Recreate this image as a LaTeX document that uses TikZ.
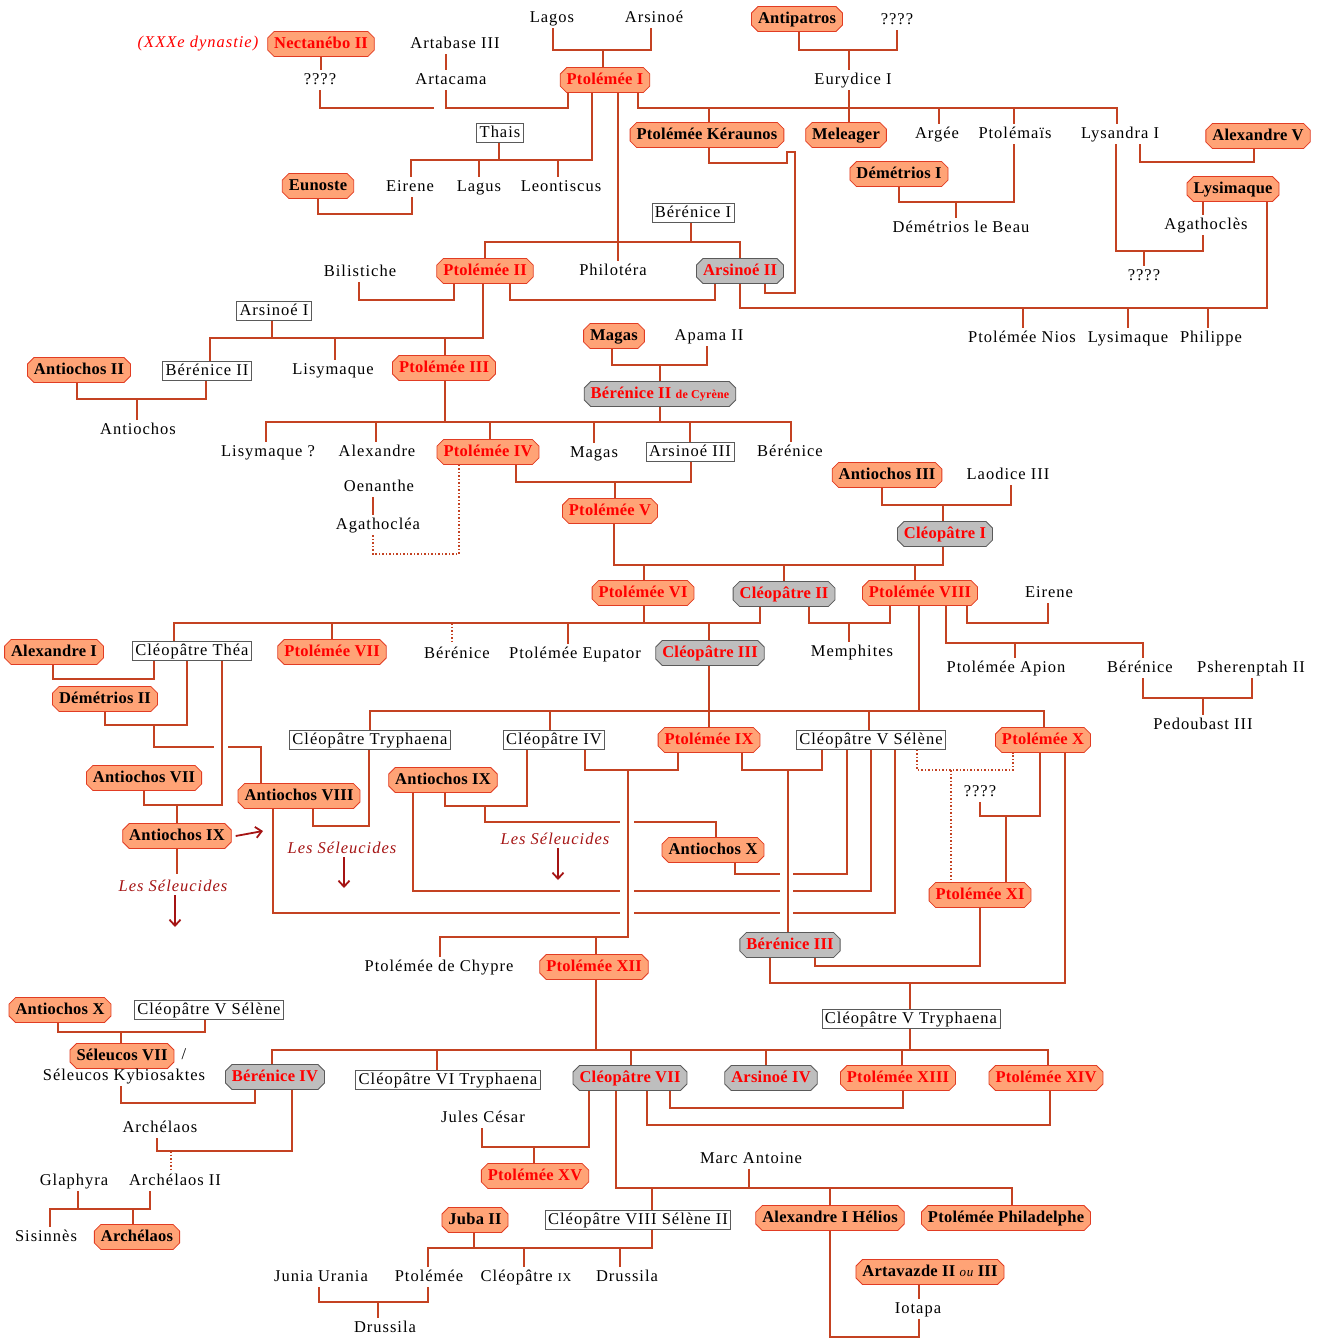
\documentclass[tikz,border=0pt]{standalone}
\usepackage{fontspec}
\setmainfont{Liberation Serif}
\newfontfamily\lsr[LetterSpace=6]{Liberation Serif}
\newfontfamily\lsb[LetterSpace=1.5]{Liberation Serif}
\usetikzlibrary{shapes.misc,arrows.meta}
\definecolor{lc}{RGB}{196,66,34}
\definecolor{ofill}{RGB}{255,163,118}
\definecolor{obord}{RGB}{225,60,35}
\definecolor{gfill}{RGB}{190,190,190}
\definecolor{gbord}{RGB}{90,90,90}
\definecolor{dred}{RGB}{165,20,20}
\tikzset{
  base/.style={inner xsep=3pt, inner ysep=1.5pt, text height=12pt, text depth=4pt},
  cham/.style={base, chamfered rectangle, chamfered rectangle xsep=3.5pt, chamfered rectangle ysep=3pt, line width=0.8pt, font=\lsb\fontsize{16.5}{18}\selectfont\bfseries},
  pha/.style={cham, fill=ofill, draw=obord, text=red},
  reg/.style={cham, fill=ofill, draw=obord, text=black},
  que/.style={cham, fill=gfill, draw=gbord, text=red},
  wbox/.style={base, rectangle, fill=white, draw=gbord, line width=0.7pt, font=\lsr\fontsize{16.5}{18}\selectfont},
  txt/.style={base, inner ysep=2pt, font=\lsr\fontsize{16.5}{18}\selectfont},
  seleu/.style={font=\lsr\fontsize{16.5}{18}\selectfont\itshape, text=dred},
  sarrow/.style={draw=dred, line width=1.8pt, -{Straight Barb[length=6pt,width=11pt]}},
  ln/.style={color=lc, line width=1.5pt},
}
\begin{document}
\begin{tikzpicture}[x=1pt,y=-1pt]
\useasboundingbox (0,0) rectangle (1323,1339);
% ---------------- nodes ----------------
\node[font=\lsr\fontsize{16.5}{18}\selectfont\itshape, text=red] (dyn) at (198,44) {(XXXe dynastie)};
\node[pha] (nect) at (321,44) {Nectanébo II};
\node[txt] (artab) at (455,44) {Artabase III};
\node[txt] (lagos) at (552,18) {Lagos};
\node[txt] (arsn) at (654,18) {Arsinoé};
\node[reg] (antip) at (797,19) {Antipatros};
\node[txt] (q1) at (897,20) {????};
\node[txt] (q0) at (320,80) {????};
\node[txt] (artac) at (451,80) {Artacama};
\node[pha] (pt1) at (605,80) {Ptolémée I};
\node[txt] (eury) at (853,80) {Eurydice I};
\node[wbox] (thais) at (500,133) {Thais};
\node[reg] (kera) at (707,135) {Ptolémée Kéraunos};
\node[reg] (mele) at (846,135) {Meleager};
\node[txt] (argee) at (937,134) {Argée};
\node[txt] (ptmais) at (1015,134) {Ptolémaïs};
\node[txt] (lysa) at (1120,134) {Lysandra I};
\node[reg] (alex5) at (1258,136) {Alexandre V};
\node[reg] (euno) at (318,186) {Eunoste};
\node[txt] (eirene1) at (410,187) {Eirene};
\node[txt] (lagus) at (479,187) {Lagus};
\node[txt] (leont) at (561,187) {Leontiscus};
\node[reg] (dem1) at (899,174) {Démétrios I};
\node[reg] (lysim1) at (1233,189) {Lysimaque};
\node[wbox] (ber1) at (693,213) {Bérénice I};
\node[txt] (dembeau) at (961,228) {Démétrios le Beau};
\node[txt] (agath) at (1206,225) {Agathoclès};
\node[txt] (bilis) at (360,272) {Bilistiche};
\node[pha] (pt2) at (485,271) {Ptolémée II};
\node[txt] (philo) at (613,271) {Philotéra};
\node[que] (ars2) at (740,271) {Arsinoé II};
\node[txt] (q2) at (1144,276) {????};
\node[wbox] (ars1) at (274,311) {Arsinoé I};
\node[txt] (ptnios) at (1022,338) {Ptolémée Nios};
\node[txt] (lysim2) at (1128,338) {Lysimaque};
\node[txt] (phil) at (1211,338) {Philippe};
\node[reg] (magas1) at (614,336) {Magas};
\node[txt] (apama) at (709,336) {Apama II};
\node[reg] (antio2) at (79,370) {Antiochos II};
\node[wbox] (ber2) at (207,371) {Bérénice II};
\node[txt] (lisym) at (333,370) {Lisymaque};
\node[pha] (pt3) at (444,368) {Ptolémée III};
\node[que] (ber2c) at (660,394) {Bérénice II {\fontsize{12}{13}\selectfont de Cyrène}};
\node[txt] (antiochos) at (138,430) {Antiochos};
\node[txt] (lisymq) at (268,452) {Lisymaque ?};
\node[txt] (alex) at (377,452) {Alexandre};
\node[pha] (pt4) at (488,452) {Ptolémée IV};
\node[txt] (magas2) at (594,453) {Magas};
\node[wbox] (ars3) at (690,452) {Arsinoé III};
\node[txt] (bere) at (790,452) {Bérénice};
\node[reg] (antio3) at (887,475) {Antiochos III};
\node[txt] (laod) at (1008,475) {Laodice III};
\node[txt] (oen) at (379,487) {Oenanthe};
\node[txt] (agathc) at (378,525) {Agathocléa};
\node[pha] (pt5) at (610,511) {Ptolémée V};
\node[que] (cleo1) at (945,534) {Cléopâtre I};
\node[pha] (pt6) at (643,593) {Ptolémée VI};
\node[que] (cleo2) at (784,594) {Cléopâtre II};
\node[pha] (pt8) at (920,593) {Ptolémée VIII};
\node[txt] (eirene2) at (1049,593) {Eirene};
\node[reg] (alex1) at (54,652) {Alexandre I};
\node[wbox] (thea) at (192,651) {Cléopâtre Théa};
\node[pha] (pt7) at (332,652) {Ptolémée VII};
\node[txt] (bere2) at (457,654) {Bérénice};
\node[txt] (eupat) at (575,654) {Ptolémée Eupator};
\node[que] (cleo3) at (710,653) {Cléopâtre III};
\node[txt] (memph) at (852,652) {Memphites};
\node[txt] (apion) at (1006,668) {Ptolémée Apion};
\node[txt] (bere3) at (1140,668) {Bérénice};
\node[txt] (psher) at (1251,668) {Psherenptah II};
\node[txt] (pedou) at (1203,725) {Pedoubast III};
\node[reg] (dem2) at (105,699) {Démétrios II};
\node[wbox] (tryph) at (370,740) {Cléopâtre Tryphaena};
\node[wbox] (cleo4) at (554,740) {Cléopâtre IV};
\node[pha] (pt9) at (709,740) {Ptolémée IX};
\node[wbox] (selene) at (871,740) {Cléopâtre V Sélène};
\node[pha] (pt10) at (1043,740) {Ptolémée X};
\node[reg] (antio7) at (144,778) {Antiochos VII};
\node[reg] (antio8) at (299,796) {Antiochos VIII};
\node[reg] (antio9b) at (443,780) {Antiochos IX};
\node[txt] (q3) at (980,792) {????};
\node[reg] (antio9) at (177,836) {Antiochos IX};
\node[seleu] (sel1) at (342,848) {Les Séleucides};
\node[seleu] (sel2) at (555,839) {Les Séleucides};
\node[seleu] (sel3) at (173,886) {Les Séleucides};
\node[reg] (antio10) at (713,850) {Antiochos X};
\node[pha] (pt11) at (980,895) {Ptolémée XI};
\node[que] (ber3) at (790,945) {Bérénice III};
\node[txt] (ptchy) at (439,967) {Ptolémée de Chypre};
\node[pha] (pt12) at (594,967) {Ptolémée XII};
\node[reg] (antio10b) at (60,1010) {Antiochos X};
\node[wbox] (selene2) at (209,1010) {Cléopâtre V Sélène};
\node[wbox] (tryph5) at (911,1019) {Cléopâtre V Tryphaena};
\node[reg] (sel7) at (122,1056) {Séleucos VII};
\node[txt] (slash) at (184,1055) {/};
\node[txt] (kyb) at (124,1076) {Séleucos Kybiosaktes};
\node[que] (ber4) at (275,1077) {Bérénice IV};
\node[wbox] (tryph6) at (448,1080) {Cléopâtre VI Tryphaena};
\node[que] (cleo7) at (630,1078) {Cléopâtre VII};
\node[que] (ars4) at (771,1078) {Arsinoé IV};
\node[pha] (pt13) at (898,1078) {Ptolémée XIII};
\node[pha] (pt14) at (1046,1078) {Ptolémée XIV};
\node[txt] (cesar) at (483,1118) {Jules César};
\node[txt] (archel) at (160,1128) {Archélaos};
\node[txt] (marc) at (751,1159) {Marc Antoine};
\node[pha] (pt15) at (535,1176) {Ptolémée XV};
\node[txt] (glaph) at (74,1181) {Glaphyra};
\node[txt] (archel2) at (175,1181) {Archélaos II};
\node[reg] (juba) at (475,1220) {Juba II};
\node[wbox] (cleo8) at (638,1220) {Cléopâtre VIII Sélène II};
\node[reg] (helios) at (830,1218) {Alexandre I Hélios};
\node[reg] (phila) at (1006,1218) {Ptolémée Philadelphe};
\node[txt] (sisin) at (46,1237) {Sisinnès};
\node[reg] (archel3) at (137,1237) {Archélaos};
\node[reg] (artav) at (930,1272) {Artavazde II {\normalfont\lsr\itshape\fontsize{13}{14}\selectfont ou} III};
\node[txt] (junia) at (321,1277) {Junia Urania};
\node[txt] (ptol) at (429,1277) {Ptolémée};
\node[txt] (cleo9) at (526,1277) {Cléopâtre {\fontsize{12}{13}\selectfont IX}};
\node[txt] (druss1) at (627,1277) {Drussila};
\node[txt] (iotapa) at (918,1309) {Iotapa};
\node[txt] (druss2) at (385,1328) {Drussila};
% ---------------- connectors ----------------
\begin{scope}[ln]
\draw (lagos.south -| 553,0) |- (651,50) -- (arsn.south -| 651,0);
\draw (603,50) -- (pt1.north -| 603,0);
\draw (antip.south -| 799,0) |- (897,50) -- (q1.south -| 897,0);
\draw (849,50) -- (eury.north -| 849,0);
\draw (eury.south -| 849,0) -- (mele.north -| 849,0);
\draw (nect.south -| 321,0) -- (q0.north -| 321,0);
\draw (q0.south -| 320,0) |- (434,108);
\draw (artab.south -| 446,0) -- (artac.north -| 446,0);
\draw (artac.south -| 446,0) |- (568,108) -- (pt1.south -| 568,0);
\draw (pt1.south -| 638,0) |- (1117,108) -- (lysa.north -| 1117,0);
\draw (709,108) -- (kera.north -| 709,0);
\draw (939,108) -- (argee.north -| 939,0);
\draw (1014,108) -- (ptmais.north -| 1014,0);
\draw (pt1.south -| 592,0) |- (411,160) -- (eirene1.north -| 411,0);
\draw (thais.south -| 499,0) -- (499,160);
\draw (479,160) -- (lagus.north -| 479,0);
\draw (558,160) -- (leont.north -| 558,0);
\draw (eirene1.south -| 412,0) |- (318,214) -- (euno.south -| 318,0);
\draw (pt1.south -| 618,0) -- (philo.north -| 618,0);
\draw (pt2.north -| 485,0) |- (740,242) -- (ars2.north -| 740,0);
\draw (ber1.south -| 691,0) -- (691,242);
\draw (kera.south -| 709,0) |- (787,163) |- (795,152) |- (765,293) -- (ars2.south -| 765,0);
\draw (pt2.south -| 510,0) |- (715,300) -- (ars2.south -| 715,0);
\draw (pt2.south -| 454,0) |- (359,300) -- (bilis.south -| 359,0);
\draw (pt2.south -| 483,0) |- (210,338) -- (ber2.north -| 210,0);
\draw (ars1.south -| 272,0) -- (272,338);
\draw (335,338) -- (lisym.north -| 335,0);
\draw (445,338) -- (pt3.north -| 445,0);
\draw (ars2.south -| 740,0) |- (1267,308) -- (lysim1.south -| 1267,0);
\draw (1023,308) -- (ptnios.north -| 1023,0);
\draw (1128,308) -- (lysim2.north -| 1128,0);
\draw (1208,308) -- (phil.north -| 1208,0);
\draw (dem1.south -| 899,0) |- (1014,202) -- (ptmais.south -| 1014,0);
\draw (956,202) -- (dembeau.north -| 956,0);
\draw (lysa.south -| 1140,0) |- (1254,162) -- (alex5.south -| 1254,0);
\draw (lysa.south -| 1116,0) |- (1203,251) -- (agath.south -| 1203,0);
\draw (1144,251) -- (q2.north -| 1144,0);
\draw (lysim1.south -| 1203,0) -- (agath.north -| 1203,0);
\draw (antio2.south -| 77,0) |- (206,399) -- (ber2.south -| 206,0);
\draw (137,399) -- (antiochos.north -| 137,0);
\draw (magas1.south -| 612,0) |- (707,365) -- (apama.south -| 707,0);
\draw (660,365) -- (ber2c.north -| 660,0);
\draw (lisymq.north -| 266,0) |- (791,422) -- (bere.north -| 791,0);
\draw (pt3.south -| 445,0) -- (445,422);
\draw (376,422) -- (alex.north -| 376,0);
\draw (490,422) -- (pt4.north -| 490,0);
\draw (594,422) -- (magas2.north -| 594,0);
\draw (690,422) -- (ars3.north -| 690,0);
\draw (ber2c.south -| 660,0) -- (660,422);
\draw (pt4.south -| 516,0) |- (691,482) -- (ars3.south -| 691,0);
\draw (615,482) -- (pt5.north -| 615,0);
\draw[dotted] (pt4.south -| 459,0) |- (373,554) -- (agathc.south -| 373,0);
\draw (oen.south -| 373,0) -- (agathc.north -| 373,0);
\draw (antio3.south -| 882,0) |- (1011,505) -- (laod.south -| 1011,0);
\draw (943,505) -- (cleo1.north -| 943,0);
\draw (pt5.south -| 614,0) |- (943,565) -- (cleo1.south -| 943,0);
\draw (644,565) -- (pt6.north -| 644,0);
\draw (784,565) -- (cleo2.north -| 784,0);
\draw (915,565) -- (pt8.north -| 915,0);
\draw (thea.north -| 174,0) |- (760,623) -- (cleo2.south -| 760,0);
\draw (pt6.south -| 644,0) -- (644,623);
\draw (332,623) -- (pt7.north -| 332,0);
\draw[dotted] (452,623) -- (bere2.north -| 452,0);
\draw (568,623) -- (eupat.north -| 568,0);
\draw (709,623) -- (cleo3.north -| 709,0);
\draw (cleo2.south -| 809,0) |- (890,623) -- (pt8.south -| 890,0);
\draw (849,623) -- (memph.north -| 849,0);
\draw (pt8.south -| 967,0) |- (1048,623) -- (eirene2.south -| 1048,0);
\draw (pt8.south -| 946,0) |- (1143,643) -- (bere3.north -| 1143,0);
\draw (1015,643) -- (apion.north -| 1015,0);
\draw (bere3.south -| 1143,0) |- (1252,698) -- (psher.south -| 1252,0);
\draw (1203,698) -- (pedou.north -| 1203,0);
\draw (pt8.south -| 919,0) |- (1044,711) -- (pt10.north -| 1044,0);
\draw (tryph.north -| 370,0) |- (919,711);
\draw (cleo3.south -| 709,0) -- (pt9.north -| 709,0);
\draw (550,711) -- (cleo4.north -| 550,0);
\draw (869,711) -- (selene.north -| 869,0);
% Seleucids
\draw (alex1.south -| 53,0) |- (154,679) -- (thea.south -| 154,0);
\draw (dem2.south -| 105,0) |- (187,725) -- (thea.south -| 187,0);
\draw (154,725) |- (214,747);
\draw (228,747) -| (antio8.north -| 261,0);
\draw (thea.south -| 222,0) |- (144,805) -- (antio7.south -| 144,0);
\draw (177,805) -- (antio9.north -| 177,0);
\draw (antio9.south -| 177,0) -- (177,874);
\draw (antio8.south -| 313,0) |- (369,826) -- (tryph.south -| 369,0);
\draw (antio8.south -| 273,0) |- (620,913);
\draw (634,913) -- (780,913);
\draw (793,913) -| (selene.south -| 895,0);
\draw (antio9b.south -| 445,0) |- (527,806) -- (cleo4.south -| 527,0);
\draw (485,806) |- (620,822);
\draw (634,822) -| (antio10.north -| 716,0);
\draw (antio9b.south -| 413,0) |- (620,891);
\draw (634,891) -- (780,891);
\draw (793,891) -| (selene.south -| 871,0);
\draw (antio10.south -| 735,0) |- (780,874);
\draw (793,874) -| (selene.south -| 847,0);
\draw (pt9.south -| 678,0) |- (585,770) -- (cleo4.south -| 585,0);
\draw (628,770) |- (440,937) -- (ptchy.north -| 440,0);
\draw (596,937) -- (pt12.north -| 596,0);
\draw (pt9.south -| 742,0) |- (822,770) -- (selene.south -| 822,0);
\draw (788,770) -- (ber3.north -| 788,0);
\draw[dotted] (selene.south -| 917,0) |- (1013,770) -- (pt10.south -| 1013,0);
\draw[dotted] (951,770) -- (pt11.north -| 951,0);
\draw (pt10.south -| 1040,0) |- (980,816) -- (q3.south -| 980,0);
\draw (1006,816) -- (pt11.north -| 1006,0);
\draw (pt11.south -| 980,0) |- (815,966) -- (ber3.south -| 815,0);
\draw (pt10.south -| 1065,0) |- (770,983) -- (ber3.south -| 770,0);
\draw (910,983) -- (tryph5.north -| 910,0);
\draw (pt12.south -| 596,0) -- (596,1050);
\draw (ber4.north -| 272,0) |- (1048,1050) -- (pt14.north -| 1048,0);
\draw (tryph5.south -| 910,0) -- (910,1050);
\draw (437,1050) -- (tryph6.north -| 437,0);
\draw (631,1050) -- (cleo7.north -| 631,0);
\draw (766,1050) -- (ars4.north -| 766,0);
\draw (902,1050) -- (pt13.north -| 902,0);
\draw (antio10b.south -| 58,0) |- (205,1032) -- (selene2.south -| 205,0);
\draw (121,1032) -- (sel7.north -| 121,0);
\draw (kyb.south -| 121,0) |- (255,1103) -- (ber4.south -| 255,0);
\draw (ber4.south -| 292,0) |- (157,1151) -- (archel.south -| 157,0);
\draw[dotted] (171,1151) -- (archel2.north -| 171,0);
\draw (sisin.north -| 50,0) |- (150,1209) -- (archel2.south -| 150,0);
\draw (glaph.south -| 78,0) -- (78,1209);
\draw (133,1209) -- (archel3.north -| 133,0);
\draw (cleo7.south -| 589,0) |- (482,1147) -- (cesar.south -| 482,0);
\draw (534,1147) -- (pt15.north -| 534,0);
\draw (cleo7.south -| 616,0) |- (1012,1188) -- (phila.north -| 1012,0);
\draw (marc.south -| 749,0) -- (749,1188);
\draw (652,1188) -- (cleo8.north -| 652,0);
\draw (830,1188) -- (helios.north -| 830,0);
\draw (helios.south -| 830,0) |- (919,1337) -- (iotapa.south -| 919,0);
\draw (artav.south -| 919,0) -- (iotapa.north -| 919,0);
\draw (cleo7.south -| 647,0) |- (1050,1125) -- (pt14.south -| 1050,0);
\draw (cleo7.south -| 670,0) |- (903,1108) -- (pt13.south -| 903,0);
\draw (juba.south -| 474,0) -- (474,1248);
\draw (ptol.north -| 428,0) |- (652,1248) -- (cleo8.south -| 652,0);
\draw (524,1248) -- (cleo9.north -| 524,0);
\draw (620,1248) -- (druss1.north -| 620,0);
\draw (junia.south -| 319,0) |- (428,1302) -- (ptol.south -| 428,0);
\draw (378,1302) -- (druss2.north -| 378,0);
\end{scope}
% arrows
\draw[sarrow] ([xshift=4pt]antio9.east) -- (263,831);
\draw[sarrow] (sel3.south -| 175,0) -- (175,927);
\draw[sarrow] (sel1.south -| 344,0) -- (344,888);
\draw[sarrow] (sel2.south -| 558,0) -- (558,880);
\end{tikzpicture}
\end{document}
